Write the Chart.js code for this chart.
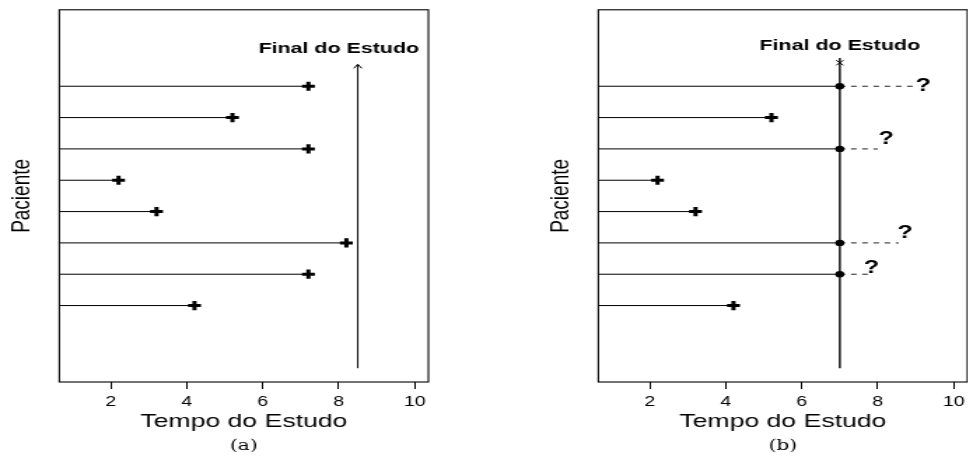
<!DOCTYPE html>
<html>
<head>
<meta charset="utf-8">
<script src="https://cdn.jsdelivr.net/npm/chart.js@4.4.1/dist/chart.umd.min.js"></script>
<style>
  html, body { margin: 0; padding: 0; background: #fff; overflow: hidden; }
  /* the reference is stretched horizontally, so each panel is drawn narrow and widened */
  .panel { position: absolute; top: 0; width: 314px; height: 457px; transform: scaleX(1.4); transform-origin: 0 0; }
  #pa { left: 0; }
  #pb { left: 539.2px; }
</style>
</head>
<body>
<div class="panel" id="pa"><canvas id="ca" width="314" height="457"></canvas></div>
<div class="panel" id="pb"><canvas id="cb" width="314" height="457"></canvas></div>
<script>
// patients 1..8 from the bottom up
const pacientes = [1, 2, 3, 4, 5, 6, 7, 8];
const tempos = [4.2, 7.2, 8.2, 3.2, 2.2, 7.2, 5.2, 7.2];
const inicio = 0;
const fimA = 8.5;
const fimB = 7;
const setaA = [-1, 8.7];
const linhaB = [-1, 8.9];
const marcaFimB = 8.75;
// dashed continuation after the end of study (panel b)
const tracoFim = [null, 7.75, 8.55, null, null, 8.0, null, 9.0];
const interrX = [null, 7.83, 8.72, null, null, 8.22, null, 9.2];
const interrY = [null, 2.21, 3.3, null, null, 6.3, null, 8.02];
const rotuloA = { x: 8.0, y: 9.2 };
const rotuloB = { x: 7.0, y: 9.3 };
const xTicks = [2, 4, 6, 8, 10];
const xLim = [0.64, 10.36];
const yLim = [-1.44, 10.44];

const SANS = "'Liberation Sans', Arial, sans-serif";
const SERIF = "'DejaVu Serif', serif";

const extras = {
  id: 'extras',
  afterDatasetsDraw(chart, args, opts) {
    const { ctx, chartArea: a, scales: { x, y } } = chart;
    ctx.save();
    ctx.strokeStyle = '#000';
    ctx.lineWidth = 1.1;
    ctx.strokeRect(a.left, a.top, a.right - a.left, a.bottom - a.top);
    ctx.fillStyle = '#000';
    ctx.textAlign = 'center';
    ctx.textBaseline = 'middle';
    (opts.labels || []).forEach((l) => {
      ctx.font = l.font;
      ctx.fillText(l.text, x.getPixelForValue(l.x), y.getPixelForValue(l.y));
    });
    ctx.font = `14.5px ${SERIF}`;
    ctx.fillText(opts.caption, (a.left + a.right) / 2, 446.5);
    if (opts.arrow != null) {
      const pts = chart.getDatasetMeta(opts.arrow).data;
      const tip = pts[pts.length - 1];
      ctx.lineWidth = 1;
      ctx.beginPath();
      ctx.moveTo(tip.x - 2.8, tip.y + 4);
      ctx.lineTo(tip.x, tip.y);
      ctx.lineTo(tip.x + 2.8, tip.y + 4);
      ctx.stroke();
    }
    ctx.restore();
  },
};

function escalas() {
  return {
    x: {
      type: 'linear', min: xLim[0], max: xLim[1],
      afterBuildTicks: (s) => { s.ticks = xTicks.map((v) => ({ value: v })); },
      afterFit: (s) => { s.height = 75; },
      grid: { drawOnChartArea: false, drawTicks: true, tickLength: 7, color: '#000', lineWidth: 1 },
      border: { display: false },
      ticks: { color: '#000', font: { family: SANS, size: 14 }, padding: 5, maxRotation: 0 },
      title: { display: true, text: 'Tempo do Estudo', color: '#000', font: { family: SANS, size: 19 }, padding: { top: 0, bottom: 23.6 } },
    },
    y: {
      type: 'linear', min: yLim[0], max: yLim[1],
      afterFit: (s) => { s.width = 42.36; },
      grid: { display: false },
      border: { display: false },
      ticks: { display: false },
      title: { display: true, text: 'Paciente', color: '#000', font: { family: SANS, size: 19 }, padding: { top: 4.2, bottom: 0 } },
    },
  };
}

function linha(pts, extra) {
  return Object.assign({ data: pts, showLine: true, borderColor: '#000', borderWidth: 1, pointRadius: 0 }, extra || {});
}

function baseOpts(extrasOpts) {
  return {
    responsive: false,
    devicePixelRatio: 1,
    animation: false,
    events: [],
    layout: { padding: { top: 9.8, right: 8, left: 0, bottom: 0 } },
    scales: escalas(),
    plugins: { legend: { display: false }, tooltip: { enabled: false }, extras: extrasOpts },
  };
}

// panel (a)
const cruzesA = {
  data: pacientes.map((p, i) => ({ x: tempos[i], y: p })),
  pointStyle: 'cross', pointRadius: 4.6, pointBorderWidth: 3, pointBorderColor: '#000', showLine: false,
};
const segA = pacientes.map((p, i) => linha([{ x: inicio, y: p }, { x: tempos[i], y: p }]));
const setaDs = linha([{ x: fimA, y: setaA[0] }, { x: fimA, y: setaA[1] }]);

new Chart(document.getElementById('ca'), {
  type: 'scatter',
  data: { datasets: [cruzesA, setaDs, ...segA] },
  options: baseOpts({
    caption: '(a)',
    arrow: 1,
    labels: [{ x: rotuloA.x, y: rotuloA.y, text: 'Final do Estudo', font: `bold 15.3px ${SANS}` }],
  }),
  plugins: [extras],
});

// panel (b)
const vivos = pacientes.filter((p, i) => tempos[i] < fimB);
const censurados = pacientes.filter((p, i) => tempos[i] > fimB);
const cruzesB = {
  data: vivos.map((p) => ({ x: tempos[p - 1], y: p })),
  pointStyle: 'cross', pointRadius: 4.6, pointBorderWidth: 3, pointBorderColor: '#000', showLine: false,
};
const pontosB = {
  data: censurados.map((p) => ({ x: fimB, y: p })),
  pointStyle: 'circle', pointRadius: 3.2, pointBorderWidth: 0, pointBackgroundColor: '#000', showLine: false,
};
const marcaB = {
  data: [{ x: fimB, y: marcaFimB }],
  pointStyle: 'crossRot', pointRadius: 3.6, pointBorderWidth: 1, pointBorderColor: '#000', showLine: false,
};
const linhaFim = linha([{ x: fimB, y: linhaB[0] }, { x: fimB, y: linhaB[1] }], { borderWidth: 1.4 });
const segB = pacientes.map((p, i) => linha([{ x: inicio, y: p }, { x: Math.min(tempos[i], fimB), y: p }]));
const tracos = censurados.map((p) => linha([{ x: fimB, y: p }, { x: tracoFim[p - 1], y: p }], { borderDash: [4, 4], borderColor: '#222' }));

new Chart(document.getElementById('cb'), {
  type: 'scatter',
  data: { datasets: [cruzesB, pontosB, marcaB, linhaFim, ...segB, ...tracos] },
  options: baseOpts({
    caption: '(b)',
    labels: [
      { x: rotuloB.x, y: rotuloB.y, text: 'Final do Estudo', font: `bold 15.3px ${SANS}` },
      ...censurados.map((p) => ({ x: interrX[p - 1], y: interrY[p - 1], text: '?', font: `bold 18px ${SANS}` })),
    ],
  }),
  plugins: [extras],
});
</script>
</body>
</html>
